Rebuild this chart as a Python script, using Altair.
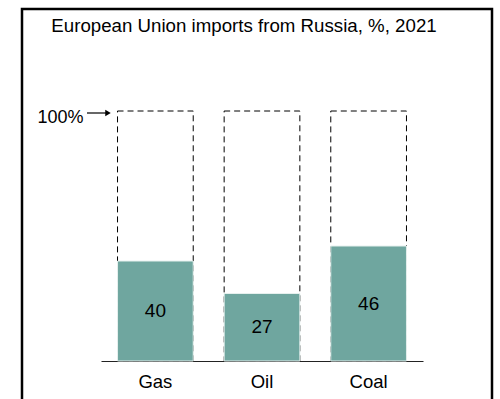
import altair as alt
import pandas as pd

categories = ["Gas", "Oil", "Coal"]
shares = [40, 27, 46]
full = [100, 100, 100]
title_text = "European Union imports from Russia, %, 2021"

FONT = "Liberation Sans"
TEAL = "#6fa69f"

df = pd.DataFrame({"category": categories, "share": shares, "full": full})
one = pd.DataFrame({"k": [0]})

xenc = alt.X(
    "category:N",
    sort=categories,
    scale=alt.Scale(paddingInner=0.29, paddingOuter=0.155),
    axis=alt.Axis(
        title=None, ticks=False, domainColor="#222222", domainWidth=1.2,
        labelFont=FONT, labelFontSize=18.5, labelColor="black", labelPadding=11,
        labelAngle=0,
    ),
)
yscale = alt.Scale(domain=[0, 100], nice=False, zero=True)
yaxis = alt.Axis(
    title=None, values=[100], labelExpr="'100%'", ticks=False, domain=False,
    grid=False, labelFont=FONT, labelFontSize=18, labelColor="black",
    labelPadding=18, labelOffset=6,
)

dashed = alt.Chart(df).mark_bar(
    fill="transparent", stroke="black", strokeWidth=1, strokeDash=[6, 4]
).encode(x=xenc, y=alt.Y("full:Q", scale=yscale, axis=yaxis))

bars = alt.Chart(df).mark_bar(
    color=TEAL, stroke="#e6f0ee", strokeWidth=1
).encode(x=xenc, y=alt.Y("share:Q", scale=yscale, axis=yaxis))

labels = alt.Chart(df).transform_calculate(mid="datum.share / 2").mark_text(
    font=FONT, fontSize=19, color="black", baseline="middle"
).encode(x=xenc, y=alt.Y("mid:Q", scale=yscale, axis=yaxis), text="share:Q")

arrow = alt.Chart(one).mark_rule(color="black", strokeWidth=1.2).encode(
    x=alt.value(-14), x2=alt.value(5), y=alt.value(2)
)
head = alt.Chart(one).mark_point(
    shape="triangle-right", filled=True, color="black", size=40, opacity=1
).encode(x=alt.value(7), y=alt.value(2))

frame = alt.Chart(one).mark_rect(
    fill="transparent", stroke="black", strokeWidth=2.5
).encode(x=alt.value(-79), x2=alt.value(391), y=alt.value(-102), y2=alt.value(320))

chart = alt.layer(frame, dashed, bars, labels, arrow, head).properties(
    width=322,
    height=250,
    title=alt.TitleParams(
        text=title_text, font=FONT, fontSize=18.7, fontWeight="normal",
        color="black", anchor="middle", frame="group", baseline="alphabetic",
        offset=0, dy=43, dx=-18,
    ),
    autosize=alt.AutoSizeParams(type="none"),
    padding={"left": 101, "top": 111, "right": 77, "bottom": 38},
    background="white",
).configure_view(strokeWidth=0)

chart.save("out.html", embed_options={"renderer": "svg", "actions": False})
